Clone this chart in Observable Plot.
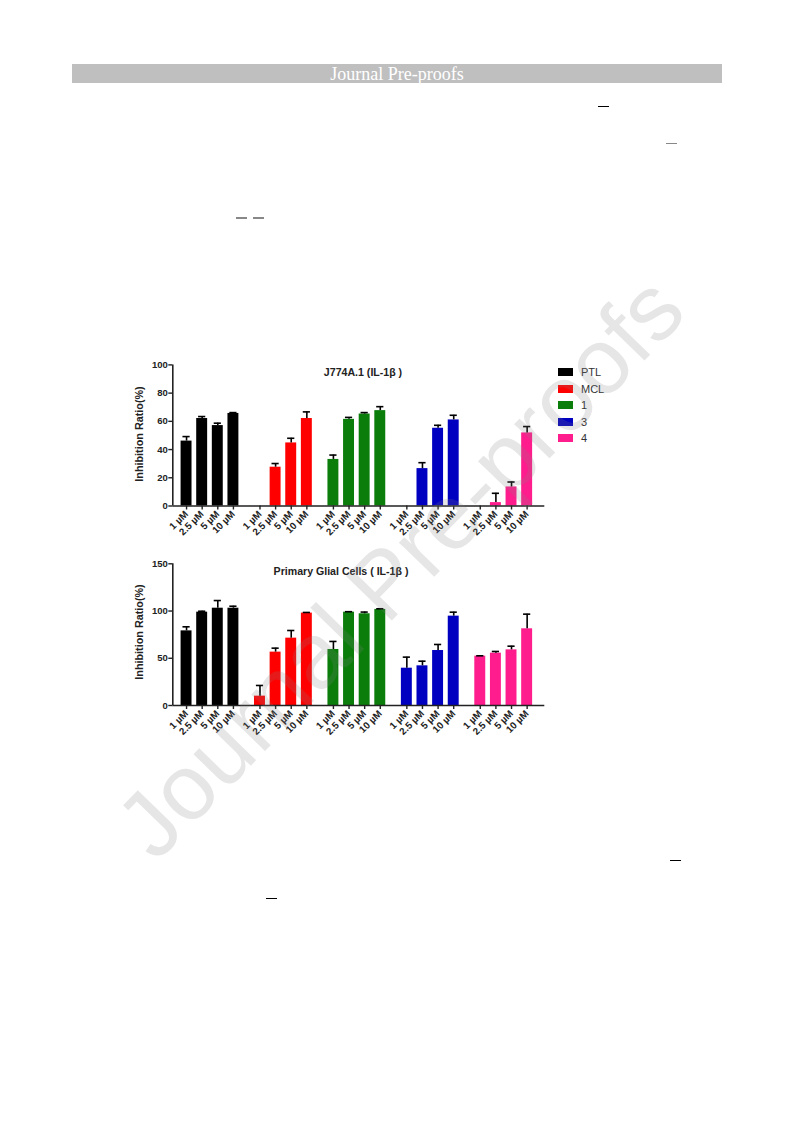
<!DOCTYPE html>
<html><head><meta charset="utf-8">
<script src="https://cdn.jsdelivr.net/npm/d3@7"></script>
<script src="https://cdn.jsdelivr.net/npm/@observablehq/plot@0.6"></script>
<style>
body{margin:0;background:#fff;}
#page{position:relative;width:793px;height:1123px;overflow:hidden;font-family:"Liberation Sans",Arial,sans-serif;background:#fff;}
.abs{position:absolute;}
.dash{position:absolute;height:1px;}
</style></head><body><div id="page"></div>
<script>
// ---- data ----
const groups = ["PTL", "MCL", "1", "3", "4"];
const groupColors = ["#000000", "#ff0000", "#0b7d0b", "#0000c0", "#ff1c8c"];
const concentrations = ["1 µM", "2.5 µM", "5 µM", "10 µM"];

const j774Title = "J774A.1 (IL-1β )";
const j774Means  = [[46, 62, 57, 65.6], [null, 27.5, 44.7, 62], [33, 61.4, 65.2, 67.6], [null, 26.5, 55.1, 61], [null, 2.4, 13.5, 51.8]];
const j774Errors = [[3.2, 1.4, 1.7, 0.6], [null, 2.6, 3.3, 4.7], [3.1, 1.4, 1.0, 2.8], [null, 4.2, 2.1, 3.3], [null, 6.6, 3.5, 4.5]];
const j774Ticks = [0, 20, 40, 60, 80, 100];

const glialTitle = "Primary Glial Cells ( IL-1β )";
const glialMeans  = [[79, 98.8, 103, 103], [9.9, 56.5, 71.3, 97.8], [59.3, 98.8, 97.1, 101.7], [39.5, 42, 58.2, 94.6], [52.2, 55.4, 58.9, 81.2]];
const glialErrors = [[4.3, 1.0, 8.1, 2.1], [11.3, 4.2, 8.1, 0.7], [8.5, 0.5, 1.8, 0.7], [11.7, 4.9, 6.4, 4.2], [0.4, 1.8, 3.9, 15.5]];
const glialTicks = [0, 50, 100, 150];

const yLabel = "Inhibition Ratio(%)";
const headerText = "Journal Pre-proofs";
const watermarkText = "Journal Pre-proofs";

// ---- layout helpers ----
const GROUP_STEP = 4.7;   // slots per group incl. gap
const page = document.getElementById("page");
function pos(gi, ci) { return gi * GROUP_STEP + ci; }
const tickPositions = [];
const tickLabelMap = new Map();
groups.forEach((g, gi) => concentrations.forEach((c, ci) => {
  const p = pos(gi, ci); tickPositions.push(p); tickLabelMap.set(p, c);
}));

function buildRows(means, errors) {
  const rows = [];
  groups.forEach((g, gi) => concentrations.forEach((c, ci) => {
    const v = means[gi][ci];
    if (v == null) return;
    rows.push({group: g, conc: c, x: pos(gi, ci), value: v, top: v + errors[gi][ci]});
  }));
  return rows;
}

function makeChart(means, errors, yMax, yTicks, left, top, mt, mb) {
  const rows = buildRows(means, errors);
  const W = 520, H = 200;
  const chart = Plot.plot({
    width: W, height: H,
    marginLeft: 72.3, marginRight: 75.7, marginTop: mt, marginBottom: mb,
    style: {fontFamily: "'Liberation Sans', Arial, sans-serif", fontWeight: "bold", fontSize: "9.5px", color: "#222", background: "transparent", overflow: "visible"},
    x: {domain: [-0.88, pos(4, 3) + 1.13]},
    y: {domain: [0, yMax]},
    color: {domain: groups, range: groupColors},
    marks: [
      Plot.rectY(rows, {x1: d => d.x - 0.35, x2: d => d.x + 0.35, y1: 0, y2: "value", fill: "group"}),
      Plot.ruleX(rows, {x: "x", y1: "value", y2: "top", stroke: "#000", strokeWidth: 1.6}),
      Plot.ruleY(rows, {y: "top", x1: d => d.x - 0.23, x2: d => d.x + 0.23, stroke: "#000", strokeWidth: 1.6}),
      Plot.ruleY([0], {stroke: "#222", strokeWidth: 1.6}),
      Plot.ruleX([-0.88], {y1: 0, y2: yMax, stroke: "#222", strokeWidth: 1.6}),
      Plot.axisY({ticks: yTicks, tickSize: 4, tickPadding: 1, label: null, stroke: "#222", strokeWidth: 1.4, fontSize: 9.5, fontWeight: "bold"}),
      Plot.axisX({ticks: tickPositions, tickFormat: d => tickLabelMap.get(d), tickSize: 4, tickPadding: 2.5, tickRotate: -45, label: null, stroke: "#222", strokeWidth: 1.4, fontSize: 9.8, fontWeight: "bold"})
    ]
  });
  chart.style.position = "absolute";
  chart.style.left = left + "px";
  chart.style.top = top + "px";
  page.appendChild(chart);
}

function addText(txt, css) {
  const d = document.createElement("div");
  d.className = "abs";
  d.textContent = txt;
  Object.assign(d.style, css);
  page.appendChild(d);
  return d;
}

// header bar
const bar = document.createElement("div");
bar.className = "abs";
Object.assign(bar.style, {left: "72px", top: "64px", width: "650px", height: "19px", background: "#bfbfbf"});
page.appendChild(bar);
addText(headerText, {left: "397px", top: "73.5px", transform: "translate(-50%,-50%)", color: "#fff", fontFamily: "'Liberation Serif','Times New Roman',serif", fontSize: "18px", whiteSpace: "nowrap"});

// stray dash marks of the page
[[598, 106, 11, "#000", 1.2], [666, 142.5, 11, "#888", 1.6], [236, 216.5, 11, "#888", 2], [253, 216.5, 11, "#888", 2], [670, 860, 11, "#000", 1.2], [266, 898, 11, "#000", 1.2]].forEach(([x, y, w, c, h]) => {
  const d = document.createElement("div");
  d.className = "dash";
  Object.assign(d.style, {left: x + "px", top: y + "px", width: w + "px", height: h + "px", background: c});
  page.appendChild(d);
});

// charts
makeChart(j774Means, j774Errors, 100, j774Ticks, 100, 350, 14.4, 44.5);
makeChart(glialMeans, glialErrors, 150, glialTicks, 100, 550, 13.3, 45);

// titles
const titleCss = {fontWeight: "bold", fontSize: "10.6px", color: "#222", whiteSpace: "nowrap", transform: "translate(-50%,0)"};
addText(j774Title, Object.assign({left: "363px", top: "365.5px"}, titleCss));
addText(glialTitle, Object.assign({left: "341px", top: "565px"}, titleCss));

// y labels
const ylCss = {fontWeight: "bold", fontSize: "10.8px", color: "#222", whiteSpace: "nowrap", transform: "translate(-50%,-50%) rotate(-90deg)"};
addText(yLabel, Object.assign({left: "139px", top: "434px"}, ylCss));
addText(yLabel, Object.assign({left: "139px", top: "632px"}, ylCss));

// legend
const legendY = [372, 388.5, 405, 421.5, 438];
groups.forEach((g, i) => {
  const sw = document.createElement("div");
  sw.className = "abs";
  Object.assign(sw.style, {left: "558px", top: (legendY[i] - 4) + "px", width: "15px", height: "8px", background: groupColors[i]});
  page.appendChild(sw);
  addText(g, {left: "581px", top: legendY[i] + "px", transform: "translate(0,-50%)", fontSize: "11px", color: "#333", whiteSpace: "nowrap"});
});

// watermark
addText(watermarkText, {left: "400px", top: "567px", transform: "translate(-50%,-50%) rotate(-45.8deg)", fontSize: "93px", color: "rgba(128,128,128,0.2)", whiteSpace: "nowrap", pointerEvents: "none", fontFamily: "'Liberation Sans', Arial, sans-serif"});
</script>
</body></html>
